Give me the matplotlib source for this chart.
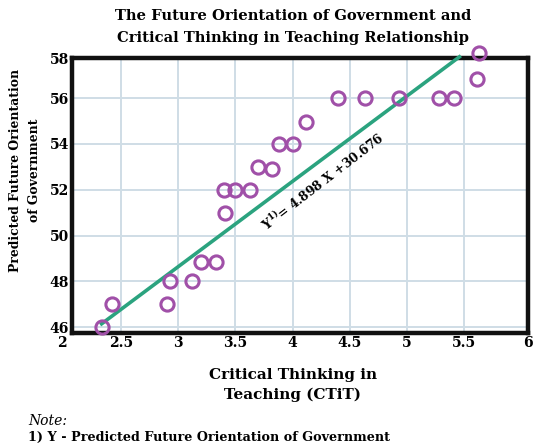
import matplotlib
matplotlib.use("Agg")
import matplotlib.pyplot as plt
import matplotlib.transforms as mtransforms

# ---- data ----
ctit = [2.33, 2.42, 2.90, 2.93, 3.12, 3.20, 3.33, 3.41, 3.40, 3.50, 3.63, 3.70,
        3.82, 3.88, 4.00, 4.12, 4.40, 4.63, 4.93, 5.28, 5.41, 5.61, 5.63]
fog = [46.0, 47.0, 47.0, 48.0, 48.0, 48.85, 48.85, 51.0, 52.0, 52.0, 52.0, 53.0,
       52.9, 54.0, 54.0, 54.95, 56.0, 56.0, 56.0, 56.0, 56.0, 56.85, 57.95]
line_x = [2.33, 5.46]
line_y = [46.15, 57.8]
x_ticks = [2.5, 3, 3.5, 4, 4.5, 5, 5.5]
x_tick_labels = ["2.5", "3", "3.5", "4", "4.5", "5", "5.5"]
y_ticks = [46, 48, 50, 52, 54, 56]
y_tick_labels = ["46", "48", "50", "52", "54", "56"]
equation = r"Y$^{\mathbf{1)}}$= 4.898 X +30.676"
title = "The Future Orientation of Government and\nCritical Thinking in Teaching Relationship"
xlabel = "Critical Thinking in\nTeaching (CTiT)"
ylabel = "Predicted Future Orientation\nof Government"

plt.rcParams['font.family'] = ['DejaVu Serif']
plt.rcParams['mathtext.fontset'] = 'dejavuserif'

fig = plt.figure(figsize=(5.38, 4.46), dpi=100)
ax = fig.add_axes([72/538, (446-333)/446, (528-72)/538, (333-58)/446])

xl = (2.071, 6.06)
yl = (45.75, 57.75)
ax.set_xlim(*xl)
ax.set_ylim(*yl)

ax.set_xticks(x_ticks + [xl[1]])
ax.set_xticklabels(x_tick_labels + ["6"])
ax.set_yticks(y_ticks + [yl[1]])
ax.set_yticklabels(y_tick_labels + ["58"])
ax.tick_params(length=0, labelsize=10, pad=2)
for lab in ax.get_xticklabels() + ax.get_yticklabels():
    lab.set_fontweight('bold')
ax.grid(True, color='#cfdde6', linewidth=1.4)
ax.set_axisbelow(True)
for s in ax.spines.values():
    s.set_linewidth(3.2)
    s.set_color('#111111')
    s.set_zorder(3)

# extra "2" label at the left end
trans = mtransforms.blended_transform_factory(ax.transData, ax.transAxes)
ax.text(1.98, -0.012, "2", transform=trans, ha='center', va='top',
        fontsize=10, fontweight='bold', clip_on=False)

ax.plot(line_x, line_y, color='#2ba37f', linewidth=2.6, zorder=4, clip_on=False)
ax.plot(ctit, fog, linestyle='none', marker='o', markersize=9.5,
        markerfacecolor='none', markeredgecolor='#a050a8', markeredgewidth=2.2,
        zorder=5, clip_on=False)

ax.text(4.267, 52.35, equation, rotation=37.5, rotation_mode='anchor',
        ha='center', va='center', fontsize=8.9, fontweight='bold')

fig.text(293/538, 1 - 27/446, title, ha='center', va='center',
         fontsize=10.6, fontweight='bold', linespacing=1.75)
fig.text(293/538, 1 - 385/446, xlabel, ha='center', va='center',
         fontsize=11, fontweight='bold', linespacing=1.45)
fig.text(25/538, 1 - 170/446, ylabel, ha='center', va='center', rotation=90,
         fontsize=8.9, fontweight='bold', linespacing=1.55)
fig.text(28/538, 1 - 421/446, "Note:", ha='left', va='center',
         fontsize=10, fontstyle='italic')
fig.text(28/538, 1 - 437/446, "1) Y - Predicted Future Orientation of Government",
         ha='left', va='center', fontsize=9.2, fontweight='bold')

fig.savefig("out.png", dpi=100)
